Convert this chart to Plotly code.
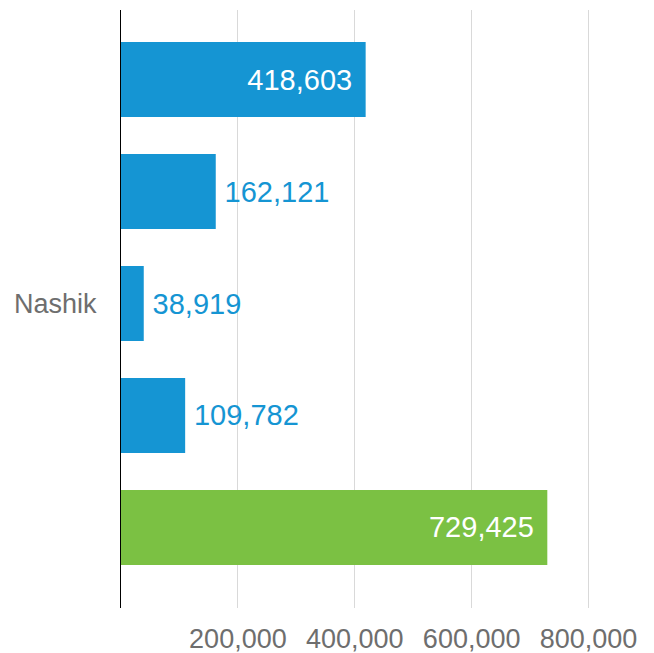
import plotly.graph_objects as go

# Nashik: four component figures plus their total
category = ["Nashik"]
component_values = [418603, 162121, 38919, 109782]
total_value = 729425
tick_values = [200000, 400000, 600000, 800000]
tick_labels = ["200,000", "400,000", "600,000", "800,000"]

BLUE = "#1595d3"
GREEN = "#7bc143"
FONT = "Liberation Sans, Arial, sans-serif"
LEAD = "\u2009"            # small gap before labels sitting outside a bar
TRAIL = "\u00a0\u200a"     # padding after labels sitting inside a bar

# bars listed bottom-to-top (grouped horizontal bars stack upward)
bar_values = [total_value] + component_values[::-1]
bar_colors = [GREEN] + [BLUE] * len(component_values)

fig = go.Figure()
for val, col in zip(bar_values, bar_colors):
    fig.add_trace(go.Bar(
        x=[val], y=category, orientation="h",
        marker=dict(color=col, line=dict(width=0)),
        text=[LEAD + f"{val:,}" + TRAIL], textposition="auto",
        insidetextanchor="end",
        insidetextfont=dict(color="white", size=29, family=FONT),
        outsidetextfont=dict(color=BLUE, size=29, family=FONT),
        cliponaxis=False, showlegend=False, hoverinfo="skip",
    ))

fig.update_layout(
    width=654, height=653,
    margin=dict(l=121, r=7, t=10, b=45, autoexpand=False),
    paper_bgcolor="white", plot_bgcolor="white",
    barmode="group", bargap=0.064, bargroupgap=0.33,
    xaxis=dict(
        range=[0, 900000], tickvals=tick_values, ticktext=tick_labels,
        showgrid=True, gridcolor="#d9d9d9", gridwidth=1,
        zeroline=False, showline=False, ticks="", automargin=False,
        ticklabelstandoff=12,
        tickfont=dict(size=27, color="#6e6e6e", family=FONT),
    ),
    yaxis=dict(
        range=[-0.5092, 0.4908],
        showline=True, linecolor="black", linewidth=1,
        showgrid=False, zeroline=False, ticks="", automargin=False,
        ticklabelstandoff=18,
        tickfont=dict(size=27, color="#6e6e6e", family=FONT),
    ),
)

fig.write_html("out.html")
